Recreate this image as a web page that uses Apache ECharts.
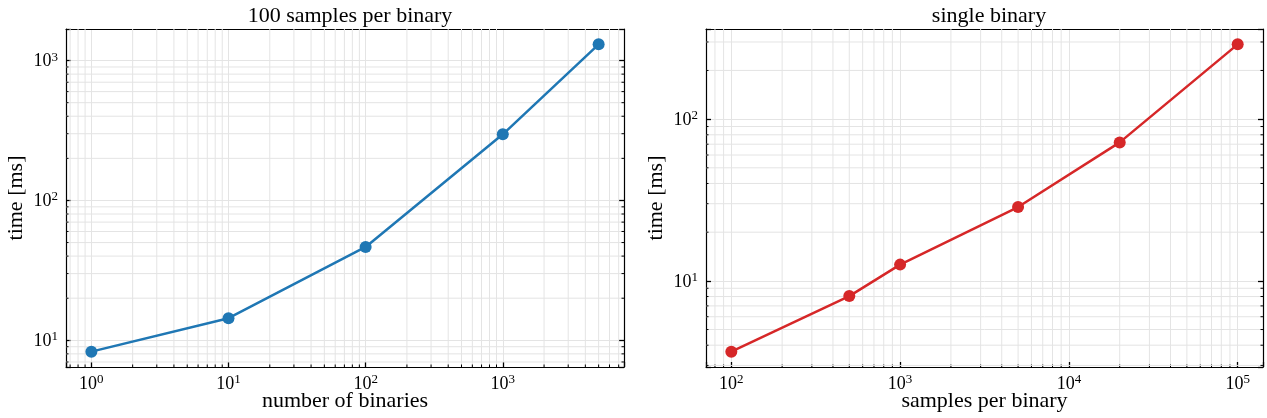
<!DOCTYPE html>
<html>
<head>
<meta charset="utf-8">
<title>timing</title>
<script src="https://cdn.jsdelivr.net/npm/echarts@6/dist/echarts.min.js"></script>
<style>
    html, body { margin: 0; padding: 0; background: #fff; }
    #chart { width: 1267px; height: 418px; }
</style>
</head>
<body>
<div id="chart"></div>
<script>
    // left panel: 100 samples per binary
    var binaries = [1, 10, 100, 1000, 5000];
    var binTimes = [8.3, 14.4, 46.5, 297, 1306];
    // right panel: single binary
    var samples = [100, 500, 1000, 5000, 20000, 100000];
    var sampleTimes = [3.65, 8.05, 12.6, 28.6, 71.8, 290];

    var titles = ['100 samples per binary', 'single binary'];
    var xNames = ['number of binaries', 'samples per binary'];
    var yName = 'time [ms]';

    var FONT = "'Liberation Serif', 'DejaVu Serif', serif";
    var GRIDC = '#e4e4e4';
    var FRAME = { show: true, onZero: false, lineStyle: { color: '#000', width: 1.2 } };

    // matplotlib-like 5% margin in log space
    function logRange(vals) {
        var lo = Math.log10(Math.min.apply(null, vals));
        var hi = Math.log10(Math.max.apply(null, vals));
        var pad = (hi - lo) * 0.05;
        return [Math.pow(10, lo - pad), Math.pow(10, hi + pad)];
    }
    // 2..9 x 10^k inside the range
    function minorTicks(r) {
        var out = [];
        for (var e = Math.floor(Math.log10(r[0])); e <= Math.ceil(Math.log10(r[1])); e++) {
            for (var m = 2; m <= 9; m++) {
                var v = m * Math.pow(10, e);
                if (v > r[0] && v < r[1]) out.push(v);
            }
        }
        return out;
    }
    function pow10Label(v) {
        var e = Math.round(Math.log10(v));
        if (Math.abs(v - Math.pow(10, e)) > 1e-6 * v) return '';
        return '{b|10}{s|' + e + '}';
    }
    var labelRich = {
        b: { fontFamily: FONT, fontSize: 18, color: '#000', verticalAlign: 'bottom' },
        s: { fontFamily: FONT, fontSize: 13, color: '#000', verticalAlign: 'bottom', padding: [0, 0, 7, 0] }
    };

    var xr = [logRange(binaries), logRange(samples)];
    var yr = [logRange(binTimes), logRange(sampleTimes)];

    function xAxisDef(i, top) {
        return {
            type: 'log', gridIndex: i, min: xr[i][0], max: xr[i][1],
            position: top ? 'top' : 'bottom',
            name: top ? '' : xNames[i], nameLocation: 'middle', nameGap: 23, nameMoveOverlap: false,
            nameTextStyle: { fontFamily: FONT, fontSize: 22, color: '#000' },
            axisLine: FRAME,
            axisTick: { show: !top, inside: true, length: 5, lineStyle: { color: '#000', width: 1.3 } },
            axisLabel: { show: !top, formatter: pow10Label, rich: labelRich, margin: 6 },
            splitLine: { show: !top, lineStyle: { color: GRIDC, width: 1 } }
        };
    }
    function yAxisDef(i, right) {
        return {
            type: 'log', gridIndex: i, min: yr[i][0], max: yr[i][1],
            position: right ? 'right' : 'left',
            name: right ? '' : yName, nameLocation: 'middle', nameGap: 39, nameMoveOverlap: false,
            nameTextStyle: { fontFamily: FONT, fontSize: 22, color: '#000' },
            axisLine: FRAME,
            axisTick: { inside: true, length: 5, lineStyle: { color: '#000', width: 1.3 } },
            axisLabel: { show: !right, formatter: pow10Label, rich: labelRich, margin: 8 },
            splitLine: { show: !right, lineStyle: { color: GRIDC, width: 1 } }
        };
    }

    // minor grid lines + inward minor ticks (bottom / left / right)
    function minorSeries(i, dir) {
        var vals = minorTicks(dir === 'x' ? xr[i] : yr[i]);
        var data = vals.map(function (v) { return dir === 'x' ? [v, yr[i][0]] : [xr[i][0], v]; });
        return {
            type: 'custom', xAxisIndex: i * 2, yAxisIndex: i * 2, z: 1, silent: true,
            data: data,
            renderItem: function (params, api) {
                var cs = params.coordSys;
                var p = api.coord([api.value(0), api.value(1)]);
                var kids = [];
                if (dir === 'x') {
                    var x = p[0], b = cs.y + cs.height;
                    kids.push({ type: 'line', shape: { x1: x, y1: cs.y, x2: x, y2: b }, style: { stroke: GRIDC, lineWidth: 1 } });
                    kids.push({ type: 'line', shape: { x1: x, y1: b, x2: x, y2: b - 2.5 }, style: { stroke: '#000', lineWidth: 1 } });
                } else {
                    var y = p[1], r = cs.x + cs.width;
                    kids.push({ type: 'line', shape: { x1: cs.x, y1: y, x2: r, y2: y }, style: { stroke: GRIDC, lineWidth: 1 } });
                    kids.push({ type: 'line', shape: { x1: cs.x, y1: y, x2: cs.x + 2.5, y2: y }, style: { stroke: '#000', lineWidth: 1 } });
                    kids.push({ type: 'line', shape: { x1: r, y1: y, x2: r - 2.5, y2: y }, style: { stroke: '#000', lineWidth: 1 } });
                }
                return { type: 'group', children: kids };
            }
        };
    }

    function lineSeries(i, xs, ys, color) {
        return {
            type: 'line', xAxisIndex: i * 2, yAxisIndex: i * 2, z: 5,
            data: xs.map(function (x, k) { return [x, ys[k]]; }),
            symbol: 'circle', symbolSize: 12,
            lineStyle: { color: color, width: 2.5 },
            itemStyle: { color: color },
            animation: false
        };
    }

    var dom = document.getElementById('chart');
    var myChart = echarts.init(dom);
    var option = {
        backgroundColor: '#fff',
        animation: false,
        title: [
            { text: titles[0], left: 345, top: 0, textAlign: 'center',
              textStyle: { fontFamily: FONT, fontSize: 22, fontWeight: 'normal', color: '#000' } },
            { text: titles[1], left: 984, top: 0, textAlign: 'center',
              textStyle: { fontFamily: FONT, fontSize: 22, fontWeight: 'normal', color: '#000' } }
        ],
        grid: [
            { left: 66, right: 643, top: 29, bottom: 51, containLabel: false, outerBoundsMode: 'none' },
            { left: 706, right: 4, top: 29, bottom: 51, containLabel: false, outerBoundsMode: 'none' }
        ],
        xAxis: [xAxisDef(0, false), xAxisDef(0, true), xAxisDef(1, false), xAxisDef(1, true)],
        yAxis: [yAxisDef(0, false), yAxisDef(0, true), yAxisDef(1, false), yAxisDef(1, true)],
        series: [
            minorSeries(0, 'x'), minorSeries(0, 'y'),
            minorSeries(1, 'x'), minorSeries(1, 'y'),
            lineSeries(0, binaries, binTimes, '#1f77b4'),
            lineSeries(1, samples, sampleTimes, '#d62728')
        ]
    };
    option.xAxis[1].gridIndex = 0;
    option.xAxis[3].gridIndex = 1;
    option.yAxis[1].gridIndex = 0;
    option.yAxis[3].gridIndex = 1;
    myChart.setOption(option, true);
</script>
</body>
</html>
